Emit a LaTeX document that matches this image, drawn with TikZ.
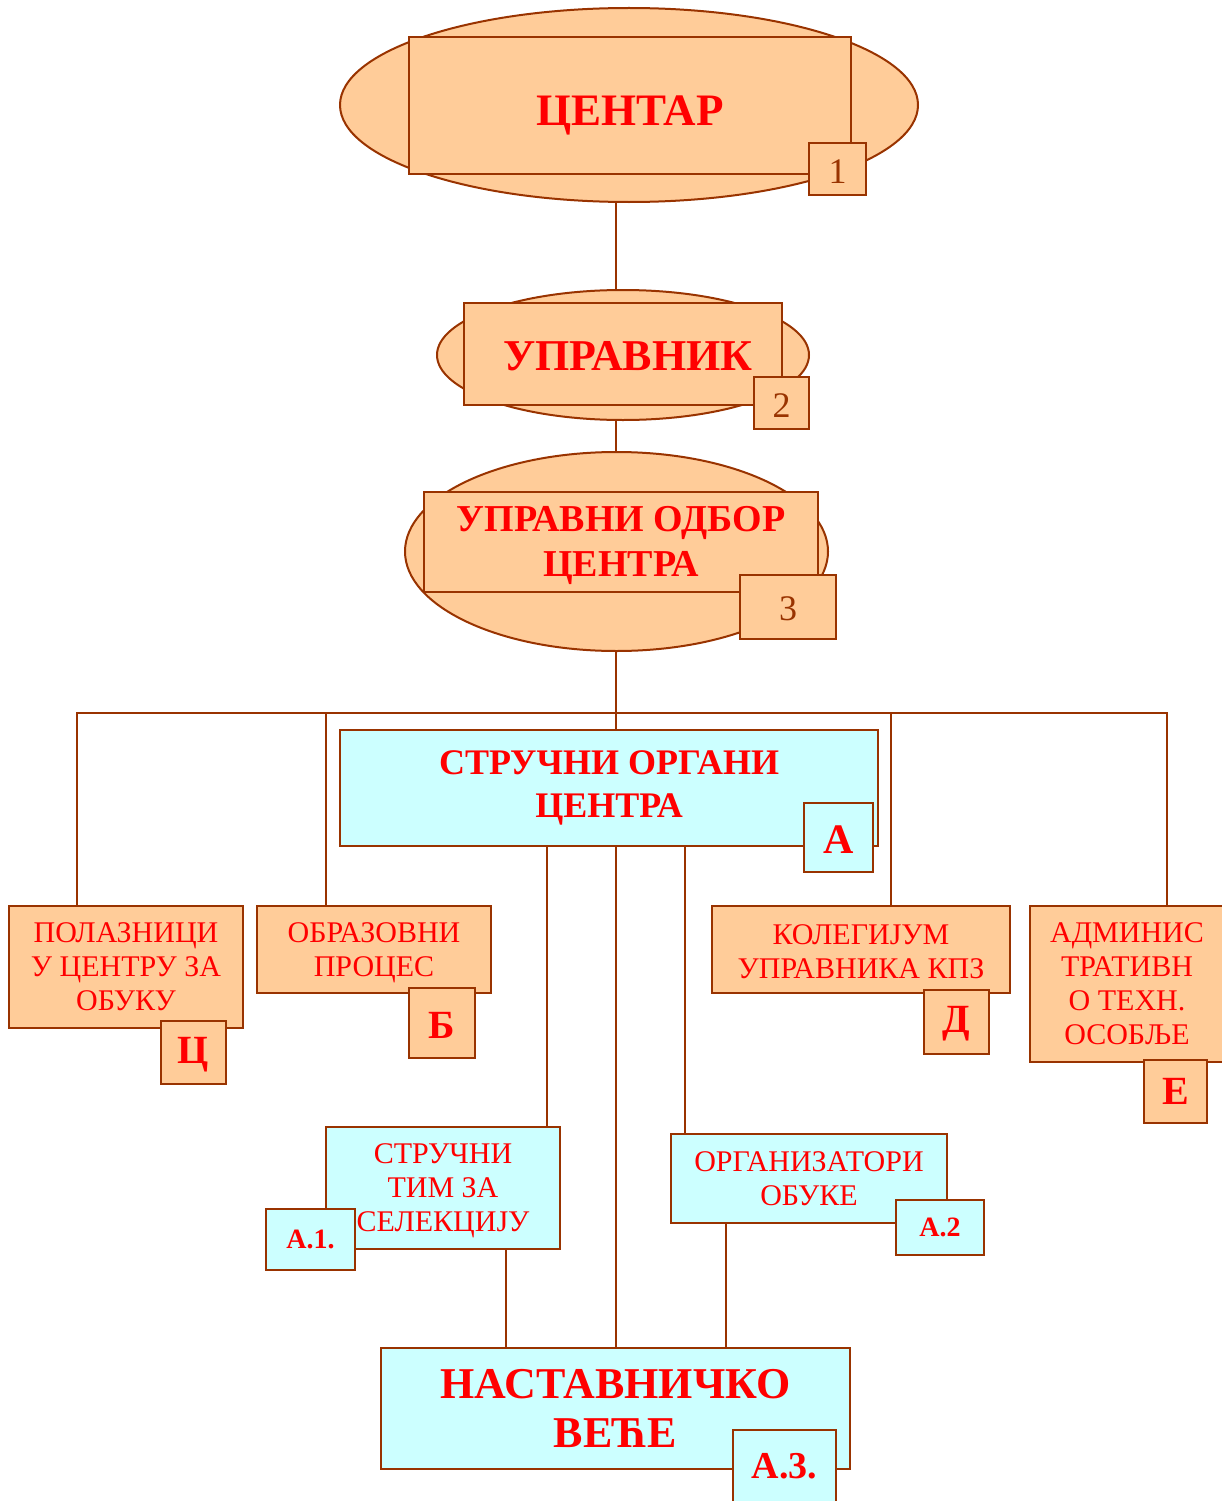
\documentclass[tikz,border=0pt]{standalone}
\usepackage{fontspec}
\setmainfont{Liberation Serif}
\usetikzlibrary{shapes,positioning}

\definecolor{brd}{HTML}{993300}
\definecolor{peach}{HTML}{FFCC99}
\definecolor{aqua}{HTML}{CCFFFF}

\newcommand{\lowr}[2]{\raisebox{-#1pt}[\height][\depth]{#2}}

\begin{document}
\begin{tikzpicture}[x=1pt,y=-1pt,line width=2pt,
  oval/.style={ellipse,draw=brd,fill=peach,inner sep=0pt},
  box/.style={rectangle,draw=brd,inner sep=0pt,align=center,text=red},
  obox/.style={box,fill=peach},
  cbox/.style={box,fill=aqua},
  txt/.style={font=\fontsize{30}{34}\selectfont},
  num/.style={text=brd,font=\fontsize{36}{36}\selectfont},
  bold/.style={font=\bfseries\fontsize{#1}{#1}\selectfont}]
\useasboundingbox (0,0) rectangle (1221,1501);

% top: centar, upravnik, upravni odbor
\node[oval,minimum width=578,minimum height=194] (el1) at (629,105) {};
\node[obox,minimum width=442,minimum height=137,bold=45] (centar) at (630,105.5) {\lowr{10}{ЦЕНТАР}};
\node[obox,num,minimum width=57,minimum height=52] (n1) at (837.5,169) {\lowr{3}{1}};

\node[oval,minimum width=372,minimum height=130] (el2) at (623,355) {};
\node[obox,minimum width=318,minimum height=102,bold=44] (upr) at (623,354) {\hspace*{10pt}\lowr{2}{УПРАВНИК}};
\node[obox,num,minimum width=55,minimum height=52] (n2) at (781.5,403) {\lowr{3}{2}};

\node[oval,minimum width=423,minimum height=199] (el3) at (616.5,551.5) {};
\node[obox,minimum width=394,minimum height=100,font=\bfseries\fontsize{38}{45}\selectfont] (odbor) at (621,542) {\lowr{3}{УПРАВНИ ОДБОР}\\\lowr{3}{ЦЕНТРА}};
\node[obox,num,minimum width=96,minimum height=64] (n3) at (788,607) {\lowr{2}{3}};

% strucni organi
\node[cbox,minimum width=538,minimum height=116,font=\bfseries\fontsize{36}{43}\selectfont] (strucni) at (609,788) {СТРУЧНИ ОРГАНИ\\ЦЕНТРА};
\node[cbox,minimum width=69,minimum height=69,bold=42] (tA) at (838.5,837.5) {\lowr{2}{А}};

% second row
\node[obox,txt,minimum width=234,minimum height=122] (polaz) at (126,967) {ПОЛАЗНИЦИ\\У ЦЕНТРУ ЗА\\ОБУКУ};
\node[obox,minimum width=65,minimum height=63,bold=40] (tC) at (193.5,1052.5) {\lowr{2}{Ц}};
\node[obox,txt,minimum width=234,minimum height=87] (obraz) at (374,949.5) {\lowr{3}{ОБРАЗОВНИ}\\\lowr{3}{ПРОЦЕС}};
\node[obox,minimum width=66,minimum height=70,bold=40] (tB) at (442,1023) {\lowr{2}{Б}};
\node[obox,txt,minimum width=298,minimum height=87] (koleg) at (861,949.5) {\lowr{2}{КОЛЕГИЈУМ}\\\lowr{2}{УПРАВНИКА КПЗ}};
\node[obox,minimum width=65,minimum height=64,bold=40] (tD) at (956.5,1022) {\lowr{2}{Д}};
\node[obox,txt,minimum width=194,minimum height=156] (admin) at (1127,984) {АДМИНИС\\ТРАТИВН\\О ТЕХН.\\ОСОБЉЕ};
\node[obox,minimum width=63,minimum height=63,bold=40] (tE) at (1175.5,1091.5) {Е};

% third row
\node[cbox,txt,minimum width=234,minimum height=122] (tim) at (443,1188) {\lowr{3}{СТРУЧНИ}\\\lowr{3}{ТИМ ЗА}\\\lowr{3}{СЕЛЕКЦИЈУ}};
\node[cbox,minimum width=89,minimum height=61,bold=28] (tA1) at (310.5,1239.5) {А.1.};
\node[cbox,txt,minimum width=276,minimum height=89] (org) at (809,1178.5) {ОРГАНИЗАТОРИ\\ОБУКЕ};
\node[cbox,minimum width=88,minimum height=55,bold=28] (tA2) at (940,1227.5) {А.2};

\node[cbox,minimum width=469,minimum height=121,font=\bfseries\fontsize{44}{49}\selectfont] (vece) at (615.5,1408.5) {НАСТАВНИЧКО\\ВЕЋЕ};
\node[cbox,minimum width=103,minimum height=72,bold=38] (tA3) at (784.5,1466) {А.3.};

% connectors
\coordinate (sp) at (616,0);
\draw[brd] (sp |- el1.south) -- (sp |- el2.north);
\draw[brd] (sp |- el2.south) -- (sp |- el3.north);
\draw[brd] (sp |- el3.south) -- (sp |- strucni.north);

\coordinate (busL) at (77,713);
\coordinate (busR) at (1167,713);
\coordinate (dB) at (326,713);
\coordinate (dD) at (891,713);
\draw[brd] (busL |- polaz.north) -- (busL) -- (busR) -- (busR |- admin.north);
\draw[brd] (dB) -- (dB |- obraz.north);
\draw[brd] (dD) -- (dD |- koleg.north);

\coordinate (x1) at (547,0);
\coordinate (x2) at (685,0);
\coordinate (x3) at (506,0);
\coordinate (x4) at (726,0);
\draw[brd] (x1 |- strucni.south) -- (x1 |- tim.north);
\draw[brd] (sp |- strucni.south) -- (sp |- vece.north);
\draw[brd] (x2 |- strucni.south) -- (x2 |- org.north);
\draw[brd] (x3 |- tim.south) -- (x3 |- vece.north);
\draw[brd] (x4 |- org.south) -- (x4 |- vece.north);
\end{tikzpicture}
\end{document}
